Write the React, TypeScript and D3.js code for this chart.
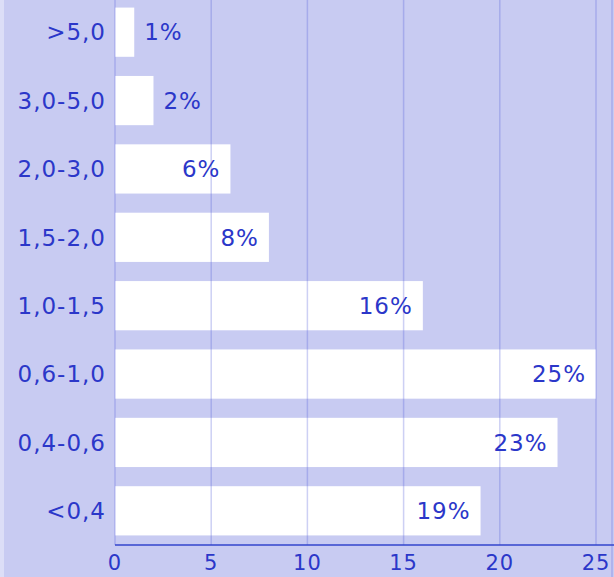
import React, { useEffect, useRef } from "react";
import * as d3 from "d3";

// bins (top to bottom) and share in percent
const categories = [">5,0", "3,0-5,0", "2,0-3,0", "1,5-2,0", "1,0-1,5", "0,6-1,0", "0,4-0,6", "<0,4"];
const shares = [1, 2, 6, 8, 16, 25, 23, 19];
const xTicks = [0, 5, 10, 15, 20, 25];

const W = 614;
const H = 577;
const BG = "#c8cbf2";
const INK = "#2b37c9";
const FONT = "'DejaVu Sans', Verdana, sans-serif";

export default function App() {
  const ref = useRef<SVGSVGElement>(null);

  useEffect(() => {
    const svg = d3.select(ref.current);
    svg.selectAll("*").remove();

    const x = d3.scaleLinear().domain([0, 25]).range([115, 596]);
    const y = d3.scaleBand<string>().domain(categories).range([-2, 545]).paddingInner(0.28).paddingOuter(0.14);

    svg.append("rect").attr("width", W).attr("height", H).attr("fill", BG);
    svg.append("rect").attr("width", 4).attr("height", H).attr("fill", "#dcdef7");

    // bars
    svg.selectAll("rect.bar")
      .data(shares)
      .join("rect")
      .attr("class", "bar")
      .attr("x", x(0))
      .attr("y", (d, i) => y(categories[i])!)
      .attr("width", d => x(d) - x(0))
      .attr("height", y.bandwidth())
      .attr("fill", "#ffffff");

    // vertical grid lines, drawn over the bars
    svg.selectAll("line.grid")
      .data(xTicks)
      .join("line")
      .attr("class", "grid")
      .attr("x1", d => x(d))
      .attr("x2", d => x(d))
      .attr("y1", 0)
      .attr("y2", 545)
      .attr("stroke", "rgba(90,100,220,0.3)")
      .attr("stroke-width", 1.5);

    svg.append("line")
      .attr("x1", 612).attr("x2", 612).attr("y1", 0).attr("y2", H)
      .attr("stroke", "rgba(90,100,220,0.3)").attr("stroke-width", 1.5);

    // x axis line
    svg.append("line")
      .attr("x1", x(0)).attr("x2", W).attr("y1", 545).attr("y2", 545)
      .attr("stroke", "#3344cc").attr("stroke-width", 1.5);

    const label = (sel: any, size = 23) =>
      sel.attr("fill", INK)
        .style("font-family", FONT)
        .style("font-size", size + "px")
        .style("letter-spacing", "1px");

    // tick labels
    svg.selectAll("text.tick")
      .data(xTicks)
      .join("text")
      .attr("class", "tick")
      .attr("x", d => x(d))
      .attr("y", 570)
      .attr("text-anchor", "middle")
      .call(label, 21)
      .text(d => d);

    // category labels
    svg.selectAll("text.cat")
      .data(categories)
      .join("text")
      .attr("class", "cat")
      .attr("x", 106)
      .attr("y", d => y(d)! + y.bandwidth() / 2)
      .attr("dy", "0.36em")
      .attr("text-anchor", "end")
      .call(label)
      .text(d => d);

    // value labels
    svg.selectAll("text.val")
      .data(shares)
      .join("text")
      .attr("class", "val")
      .attr("x", d => (d < 5 ? x(d) + 10 : x(d) - 10))
      .attr("y", (d, i) => y(categories[i])! + y.bandwidth() / 2)
      .attr("dy", "0.36em")
      .attr("text-anchor", d => (d < 5 ? "start" : "end"))
      .call(label)
      .text(d => d + "%");
  }, []);

  return (
    <svg ref={ref} width={W} height={H} style={{ position: "absolute", left: 0, top: 0, display: "block" }} />
  );
}
